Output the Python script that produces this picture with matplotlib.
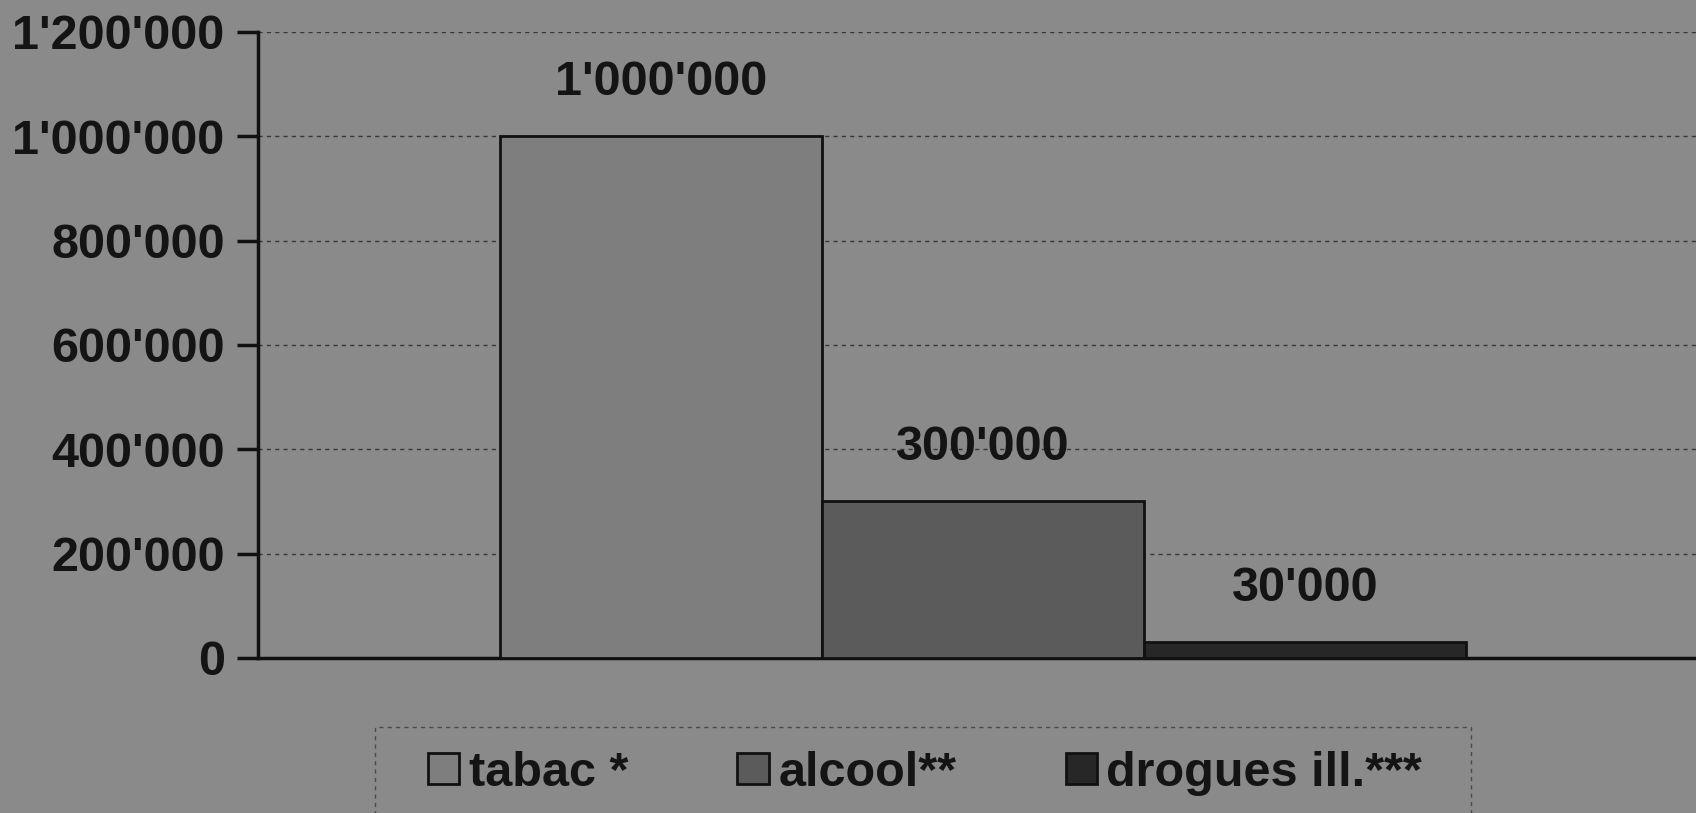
import matplotlib
matplotlib.use("Agg")
import matplotlib.pyplot as plt
from matplotlib.patches import Rectangle

# data
series = ["tabac *", "alcool**", "drogues ill.***"]
values = [1000000, 300000, 30000]
y_ticks = [0, 200000, 400000, 600000, 800000, 1000000, 1200000]
colors = ["#7e7e7e", "#5b5b5b", "#272727"]


def swiss(v):
    return f"{v:,}".replace(",", "'")


plt.rcParams["font.family"] = ["Liberation Sans", "DejaVu Sans"]
plt.rcParams["font.weight"] = "bold"
text_col = "#141414"
bg = "#8a8a8a"

fig = plt.figure(figsize=(16.96, 8.13), dpi=100, facecolor=bg)
ax = fig.add_axes([0.1521, 0.1907, 0.8479, 0.770])
ax.set_facecolor(bg)

positions = [-1, 0, 1]
bars = []
for pos, val, col, name in zip(positions, values, colors, series):
    b = ax.bar(pos, val, width=1.0, color=col, edgecolor="#111111",
               linewidth=2, label=name, zorder=3)
    bars.append(b)
    ax.annotate(swiss(val), (pos, val), xytext=(0, 39), textcoords="offset points",
                ha="center", va="center", fontsize=35, fontweight="bold",
                color=text_col, zorder=4)

ax.set_xlim(-2.25, 2.214)
ax.set_ylim(0, 1200000)
ax.set_yticks(y_ticks)
ax.set_yticklabels([swiss(v) for v in y_ticks], fontsize=35, fontweight="bold",
                   color=text_col)
ax.tick_params(axis="y", length=15, width=2.5, pad=9, color="#111111")
ax.tick_params(axis="x", length=0, labelbottom=False)

ax.yaxis.grid(True, linestyle=(0, (3, 3)), color="#383838", linewidth=1, zorder=1)
ax.set_axisbelow(True)

for s in ["top", "right"]:
    ax.spines[s].set_visible(False)
ax.spines["left"].set_linewidth(2.5)
ax.spines["left"].set_color("#111111")
ax.spines["bottom"].set_linewidth(2.5)
ax.spines["bottom"].set_color("#111111")

# legend frame (dashed box at the bottom)
frame = Rectangle((375 / 1696, -0.02), (1471 - 375) / 1696, (813 - 727) / 813 + 0.02,
                  transform=fig.transFigure, fill=False, edgecolor="#4a4a4a",
                  linestyle=(0, (3, 3)), linewidth=1)
fig.patches.append(frame)

leg = fig.legend(handles=[b[0] for b in bars], labels=series, loc="center",
                 bbox_to_anchor=(925 / 1696, 40 / 813), ncol=3, frameon=False,
                 fontsize=35, handlelength=0.64, handleheight=0.62,
                 handletextpad=0.2, columnspacing=2.25, borderpad=0)
for t in leg.get_texts():
    t.set_color(text_col)
    t.set_fontweight("bold")

fig.savefig("out.png", dpi=100, facecolor=bg)
